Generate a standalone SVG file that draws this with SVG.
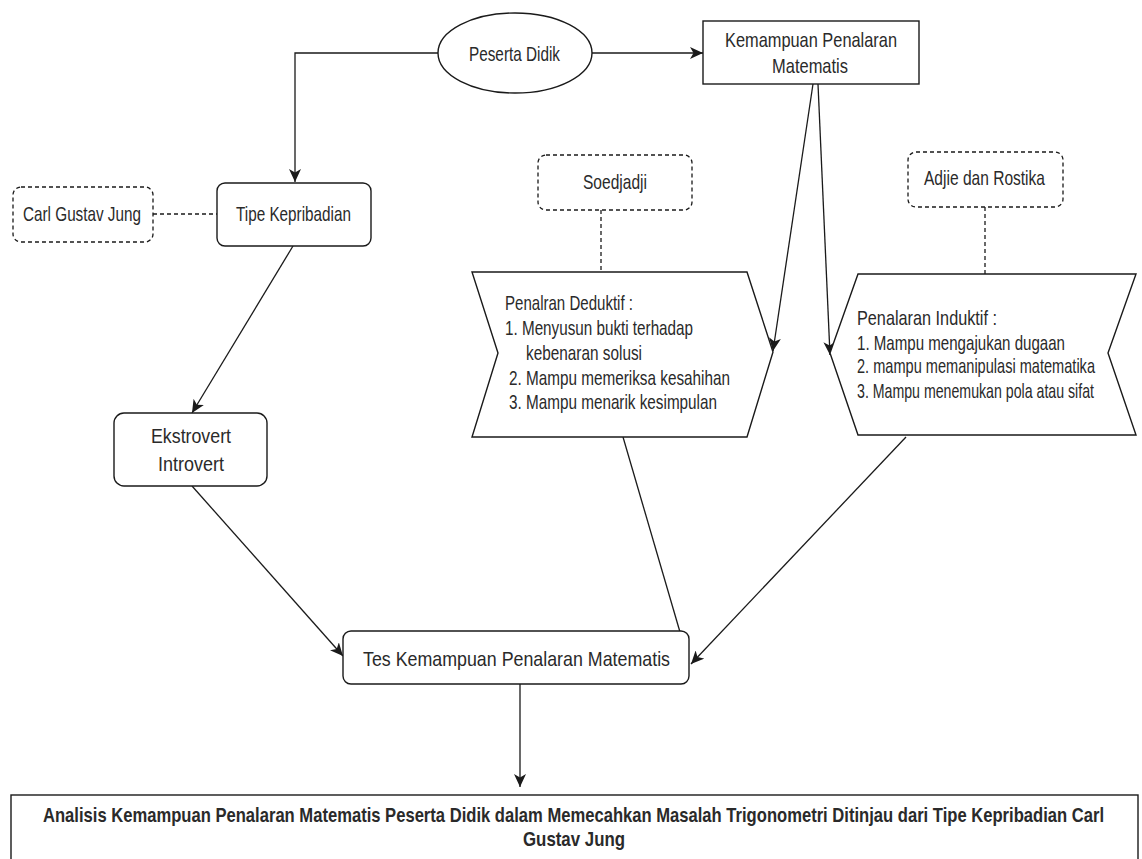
<svg xmlns="http://www.w3.org/2000/svg" width="1142" height="859" viewBox="0 0 1142 859">
<style>
  .shape { fill: #ffffff; stroke: #1a1a1a; stroke-width: 1.4; }
  .dashed { fill: #ffffff; stroke: #1a1a1a; stroke-width: 1.3; stroke-dasharray: 4 3; }
  .t { font-family: "Liberation Sans", Arial, sans-serif; fill: #2a2a2a; font-size: 21px; }
  .conn { fill: none; stroke: #1a1a1a; stroke-width: 1.3; }
  .arrow { marker-end: url(#ah); }
  .dline { fill: none; stroke: #1a1a1a; stroke-width: 1.3; stroke-dasharray: 4 3; }
</style>
<defs>
  <marker id="ah" markerUnits="userSpaceOnUse" markerWidth="14" markerHeight="12" viewBox="0 0 14 12" refX="13" refY="6" orient="auto">
    <path d="M0,0 L13,6 L0,12 L3.5,6 z" fill="#1a1a1a"/>
  </marker>
</defs>
<rect width="1142" height="859" fill="#ffffff"/>

<g id="connectors">
  <path class="conn arrow" d="M438,53 H295 V182"/>
  <path class="conn arrow" d="M592,53 H703"/>
  <path class="dline" d="M153,214 H217"/>
  <path class="conn arrow" d="M293,246 L192,413"/>
  <path class="conn arrow" d="M192,486 L343,656"/>
  <path class="conn arrow" d="M813,84 L773,351"/>
  <path class="conn arrow" d="M818,84 L830,355"/>
  <path class="dline" d="M601,210 V272"/>
  <path class="dline" d="M985,207 V274"/>
  <path class="conn arrow" d="M623,437 L687,656"/>
  <path class="conn arrow" d="M906,437 L691,664"/>
  <path class="conn arrow" d="M520,684 V787"/>
</g>

<g id="peserta-didik">
  <ellipse class="shape" cx="515" cy="53" rx="77" ry="40"/>
  <text class="t" x="469" y="61" font-size="22" textLength="91" lengthAdjust="spacingAndGlyphs">Peserta Didik</text>
</g>

<g id="kemampuan-penalaran">
  <rect class="shape" x="703" y="21" width="216" height="63"/>
  <text class="t" x="725" y="47" textLength="172" lengthAdjust="spacingAndGlyphs">Kemampuan Penalaran</text>
  <text class="t" x="772" y="73" textLength="76" lengthAdjust="spacingAndGlyphs">Matematis</text>
</g>

<g id="carl-gustav-jung">
  <rect class="dashed" x="13" y="187" width="140" height="55" rx="8"/>
  <text class="t" x="23" y="221" textLength="118" lengthAdjust="spacingAndGlyphs">Carl Gustav Jung</text>
</g>

<g id="tipe-kepribadian">
  <rect class="shape" x="217" y="183" width="154" height="63" rx="8"/>
  <text class="t" x="236" y="221" textLength="115" lengthAdjust="spacingAndGlyphs">Tipe Kepribadian</text>
</g>

<g id="ekstrovert-introvert">
  <rect class="shape" x="114" y="413" width="153" height="73" rx="10"/>
  <text class="t" x="151" y="443" font-size="23" textLength="80" lengthAdjust="spacingAndGlyphs">Ekstrovert</text>
  <text class="t" x="158" y="471" font-size="23" textLength="66" lengthAdjust="spacingAndGlyphs">Introvert</text>
</g>

<g id="soedjadji">
  <rect class="dashed" x="538" y="155" width="154" height="55" rx="8"/>
  <text class="t" x="583" y="189" textLength="64" lengthAdjust="spacingAndGlyphs">Soedjadji</text>
</g>

<g id="adjie-rostika">
  <rect class="dashed" x="908" y="152" width="155" height="55" rx="8"/>
  <text class="t" x="924" y="185" textLength="121" lengthAdjust="spacingAndGlyphs">Adjie dan Rostika</text>
</g>

<g id="penalaran-deduktif">
  <polygon class="shape" points="472,272 747,272 773,352 747,437 472,437 498,353"/>
  <text class="t" x="505" y="310" font-size="20" textLength="128" lengthAdjust="spacingAndGlyphs">Penalran Deduktif :</text>
  <text class="t" x="505" y="335" font-size="20" textLength="188" lengthAdjust="spacingAndGlyphs">1. Menyusun bukti terhadap</text>
  <text class="t" x="526" y="360" font-size="20" textLength="116" lengthAdjust="spacingAndGlyphs">kebenaran solusi</text>
  <text class="t" x="509" y="385" font-size="20" textLength="221" lengthAdjust="spacingAndGlyphs">2. Mampu memeriksa kesahihan</text>
  <text class="t" x="509" y="409" font-size="20" textLength="208" lengthAdjust="spacingAndGlyphs">3. Mampu menarik kesimpulan</text>
</g>

<g id="penalaran-induktif">
  <polygon class="shape" points="858,274 1136,274 1108,353 1136,435 858,435 830,353"/>
  <text class="t" x="857" y="325" font-size="20" textLength="140" lengthAdjust="spacingAndGlyphs">Penalaran Induktif :</text>
  <text class="t" x="857" y="350" font-size="20" textLength="208" lengthAdjust="spacingAndGlyphs">1. Mampu mengajukan dugaan</text>
  <text class="t" x="857" y="373" font-size="20" textLength="238" lengthAdjust="spacingAndGlyphs">2. mampu memanipulasi matematika</text>
  <text class="t" x="857" y="398" font-size="20" textLength="237" lengthAdjust="spacingAndGlyphs">3. Mampu menemukan pola atau sifat</text>
</g>

<g id="tes-kemampuan">
  <rect class="shape" x="343" y="631" width="346" height="53" rx="8"/>
  <text class="t" x="363" y="666" font-size="24" textLength="307" lengthAdjust="spacingAndGlyphs">Tes Kemampuan Penalaran Matematis</text>
</g>

<g id="analisis">
  <rect class="shape" x="11" y="795" width="1127" height="70"/>
  <text class="t" x="43" y="822" font-size="23" font-weight="bold" fill="#1a1a1a" textLength="1061" lengthAdjust="spacingAndGlyphs">Analisis Kemampuan Penalaran Matematis Peserta Didik dalam Memecahkan Masalah Trigonometri Ditinjau dari Tipe Kepribadian Carl</text>
  <text class="t" x="523" y="846" font-size="23" font-weight="bold" fill="#1a1a1a" textLength="102" lengthAdjust="spacingAndGlyphs">Gustav Jung</text>
</g>
</svg>
